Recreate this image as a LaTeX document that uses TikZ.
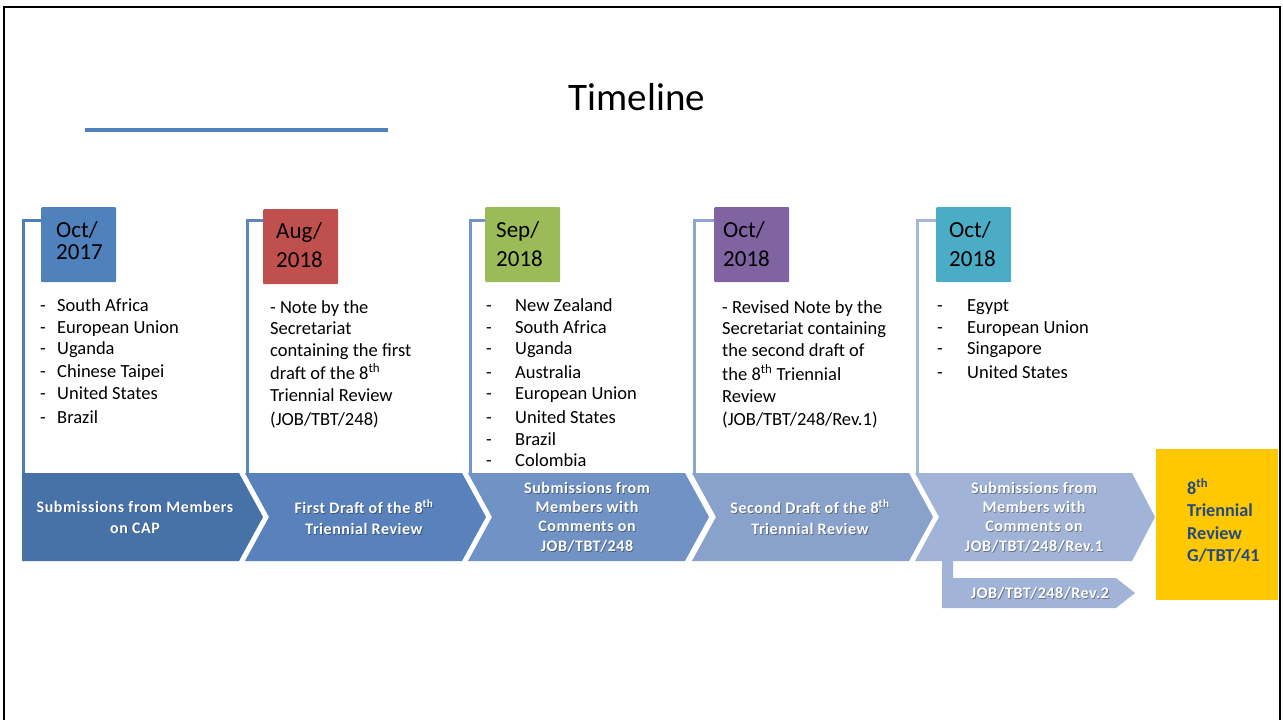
\documentclass[tikz,border=0pt]{standalone}
\usepackage{fontspec}
\setmainfont{Carlito}
\newfontfamily\chevfont[LetterSpace=3.5]{Carlito}
\definecolor{boxA}{HTML}{4F81BD}
\definecolor{boxB}{HTML}{C0504D}
\definecolor{boxC}{HTML}{9BBB59}
\definecolor{boxD}{HTML}{8064A2}
\definecolor{boxE}{HTML}{4BACC6}
\definecolor{chA}{HTML}{4772A8}
\definecolor{chB}{HTML}{5982BD}
\definecolor{chC}{HTML}{7092C4}
\definecolor{chD}{HTML}{89A2CC}
\definecolor{chE}{HTML}{A1B3D6}
\definecolor{lnA}{HTML}{4F7EBA}
\definecolor{lnB}{HTML}{5D86C0}
\definecolor{lnC}{HTML}{7595C8}
\definecolor{lnD}{HTML}{8DA6D0}
\definecolor{lnE}{HTML}{A5B8D9}
\definecolor{yel}{HTML}{FFC800}
\definecolor{navy}{HTML}{264A7F}
\begin{document}
\begin{tikzpicture}[x=1pt,y=-1pt,
  lst/.style={anchor=base west, inner sep=0pt, font=\fontsize{18.5}{22}\selectfont},
  dt/.style={anchor=base west, inner sep=0pt, text height=16pt, text depth=0pt, font=\fontsize{23}{28}\selectfont},
  datebox/.style={anchor=north west, minimum width=75pt, minimum height=75pt, inner sep=0pt, rounded corners=1pt},
  chev/.style={align=center, inner sep=0pt, text=white, font=\chevfont\bfseries\fontsize{16}{21}\selectfont},
  chevfour/.style={chev, font=\chevfont\bfseries\fontsize{16}{19.3}\selectfont},
  shd/.style={text=black, text opacity=0.35},
  brk/.style={line width=3pt},
  yt/.style={anchor=base west, inner sep=0pt, text=navy, font=\bfseries\fontsize{18.2}{22}\selectfont},
]
\useasboundingbox (0,0) rectangle (1283,720);
\fill[white] (0,0) rectangle (1283,720);
% frame
\draw[black, line width=2.5pt] (4,722) -- (4,7) -- (1280,7) -- (1280,722);
% title
\node[anchor=base, inner sep=0pt, font=\fontsize{39}{44}\selectfont] (title) at (637,110) {Timeline};
\draw[boxA, line width=4pt] (85,130) -- (388,130);

% date boxes
\node[datebox, fill=boxA] (d1) at (41,207) {};
\node[datebox, fill=boxB] (d2) at (263,209) {};
\node[datebox, fill=boxC] (d3) at (485,207) {};
\node[datebox, fill=boxD] (d4) at (714,207) {};
\node[datebox, fill=boxE] (d5) at (936,207) {};

% bracket lines
\coordinate (b1) at (23,473);
\coordinate (b2) at (247,473);
\coordinate (b3) at (470,473);
\coordinate (b4) at (694,473);
\coordinate (b5) at (917,473);
\draw[brk, lnA] (b1) -- (23,220) -- (d1.west |- 0,220);
\draw[brk, lnB] (b2) -- (247,220) -- (d2.west |- 0,220);
\draw[brk, lnC] (b3) -- (470,220) -- (d3.west |- 0,220);
\draw[brk, lnD] (b4) -- (694,220) -- (d4.west |- 0,220);
\draw[brk, lnE] (b5) -- (917,220) -- (d5.west |- 0,220);

% date texts
\node[dt] (d1a) at (56,237) {Oct/};
\node[dt] (d1b) at (56,259.5) {2017};
\node[dt] (d2a) at (276,238) {Aug/};
\node[dt] (d2b) at (276,267) {2018};
\node[dt] (d3a) at (496,237) {Sep/};
\node[dt] (d3b) at (496,266) {2018};
\node[dt] (d4a) at (723,237) {Oct/};
\node[dt] (d4b) at (723,266) {2018};
\node[dt] (d5a) at (949,237) {Oct/};
\node[dt] (d5b) at (949,266) {2018};

% column 1
\foreach \t/\y [count=\i] in {South Africa/311, European Union/333, Uganda/354, Chinese Taipei/377, United States/399, Brazil/423}{
  \node[lst] (c1d\i) at (40,\y) {-};
  \node[lst] (c1t\i) at (57,\y) {\t};
}
% column 2
\node[lst] (c2t1) at (270,313) {- Note by the};
\node[lst] (c2t2) at (270,334) {Secretariat};
\node[lst] (c2t3) at (270,356) {containing the first};
\node[lst] (c2t4) at (270,379) {draft of the 8\textsuperscript{th}};
\node[lst] (c2t5) at (270,401) {Triennial Review};
\node[lst] (c2t6) at (270,425) {(JOB/TBT/248)};
% column 3
\foreach \t/\y [count=\i] in {New Zealand/311, South Africa/333, Uganda/354, Australia/378, European Union/399, United States/423, Brazil/445, Colombia/466}{
  \node[lst] (c3d\i) at (486,\y) {-};
  \node[lst] (c3t\i) at (515,\y) {\t};
}
% column 4
\node[lst] (c4t1) at (722,313) {- Revised Note by the};
\node[lst] (c4t2) at (722,334) {Secretariat containing};
\node[lst] (c4t3) at (722,356) {the second draft of};
\node[lst] (c4t4) at (722,380) {the 8\textsuperscript{th} Triennial};
\node[lst] (c4t5) at (722,402) {Review};
\node[lst] (c4t6) at (722,425) {(JOB/TBT/248/Rev.1)};
% column 5
\foreach \t/\y [count=\i] in {Egypt/311, European Union/333, Singapore/354, United States/378}{
  \node[lst] (c5d\i) at (937,\y) {-};
  \node[lst] (c5t\i) at (967,\y) {\t};
}

% chevrons
\fill[chA] (22,473) -- (239,473) -- (263,517) -- (239,561) -- (22,561) -- cycle;
\fill[chB] (245,473) -- (462,473) -- (486,517) -- (462,561) -- (245,561) -- (269,517) -- cycle;
\fill[chC] (468,473) -- (685,473) -- (709,517) -- (685,561) -- (468,561) -- (492,517) -- cycle;
\fill[chD] (692,473) -- (909,473) -- (933,517) -- (909,561) -- (692,561) -- (716,517) -- cycle;
\fill[chE] (915,473) -- (1132,473) -- (1155,517) -- (1132,561) -- (915,561) -- (939,517) -- cycle;
\fill[chE] (942,561) -- (953,561) -- (953,578) -- (1116,578) -- (1135,593) -- (1116,608) -- (942,608) -- cycle;

% chevron texts (shadow + text)
\node[chev, shd] (s1s) at (135.8,517.8) {Submissions from Members\\on CAP};
\node[chev] (s1) at (135,517) {Submissions from Members\\on CAP};
\node[chev, shd] (s2s) at (364.8,517.8) {First Draft of the 8\textsuperscript{th}\\Triennial Review};
\node[chev] (s2) at (364,517) {First Draft of the 8\textsuperscript{th}\\Triennial Review};
\node[chevfour, shd] (s3s) at (587.8,517.8) {Submissions from\\Members with\\Comments on\\JOB/TBT/248};
\node[chevfour] (s3) at (587,517) {Submissions from\\Members with\\Comments on\\JOB/TBT/248};
\node[chev, shd] (s4s) at (810.8,517.8) {Second Draft of the 8\textsuperscript{th}\\Triennial Review};
\node[chev] (s4) at (810,517) {Second Draft of the 8\textsuperscript{th}\\Triennial Review};
\node[chevfour, shd] (s5s) at (1034.8,517.8) {Submissions from\\Members with\\Comments on\\JOB/TBT/248/Rev.1};
\node[chevfour] (s5) at (1034,517) {Submissions from\\Members with\\Comments on\\JOB/TBT/248/Rev.1};
\node[chev, shd] (s6s) at (1040.8,593.8) {JOB/TBT/248/Rev.2};
\node[chev] (s6) at (1040,593) {JOB/TBT/248/Rev.2};

% final box
\fill[yel] (1156,449) rectangle (1278,600);
\node[yt] (y1) at (1187,494) {8\textsuperscript{th}};
\node[yt] (y2) at (1187,516.5) {Triennial};
\node[yt] (y3) at (1187,539) {Review};
\node[yt] (y4) at (1187,561.5) {G/TBT/41};
\end{tikzpicture}
\end{document}
